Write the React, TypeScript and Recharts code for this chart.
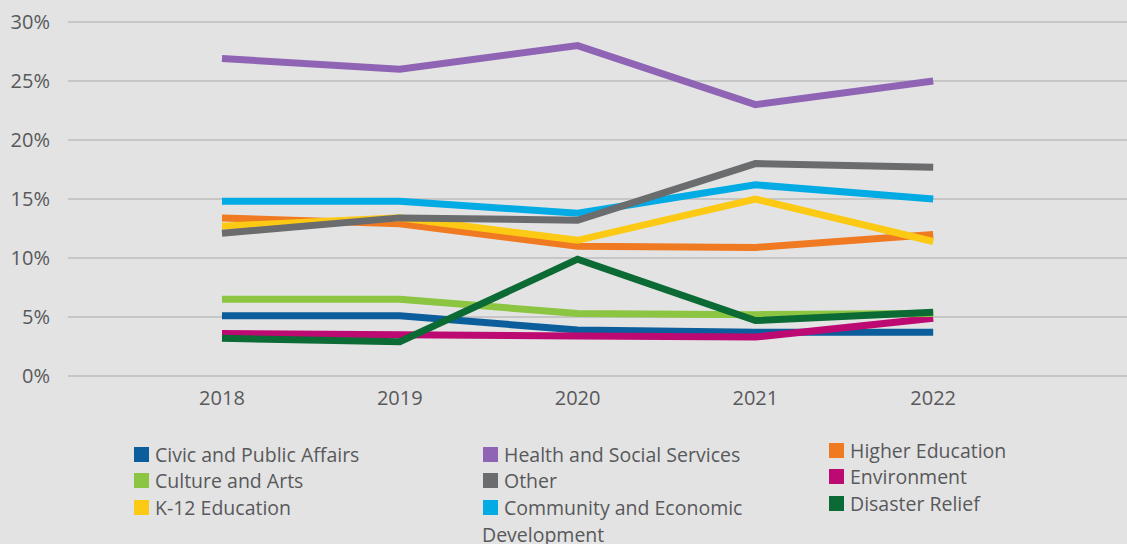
import { CartesianGrid, Line, LineChart, XAxis, YAxis } from 'recharts'

const years = [2018, 2019, 2020, 2021, 2022]
const yTicks = [0, 5, 10, 15, 20, 25, 30]

const civic = [5.1, 5.1, 3.9, 3.7, 3.7]
const culture = [6.5, 6.5, 5.3, 5.2, 5.3]
const k12 = [12.7, 13.4, 11.5, 15.0, 11.4]
const health = [26.9, 26.0, 28.0, 23.0, 25.0]
const other = [12.1, 13.4, 13.2, 18.0, 17.7]
const community = [14.8, 14.8, 13.8, 16.2, 15.0]
const higherEd = [13.4, 12.9, 11.0, 10.9, 12.0]
const environment = [3.6, 3.5, 3.4, 3.3, 4.9]
const disaster = [3.2, 2.9, 9.9, 4.7, 5.4]

const series = [
  { key: 'higherEd', name: 'Higher Education', color: '#f07a22', values: higherEd },
  { key: 'civic', name: 'Civic and Public Affairs', color: '#0b5e9b', values: civic },
  { key: 'environment', name: 'Environment', color: '#bd0a72', values: environment },
  { key: 'culture', name: 'Culture and Arts', color: '#8cc541', values: culture },
  { key: 'k12', name: 'K-12 Education', color: '#fcc914', values: k12 },
  { key: 'community', name: 'Community and Economic Development', color: '#03abe4', values: community },
  { key: 'other', name: 'Other', color: '#6b6c6e', values: other },
  { key: 'health', name: 'Health and Social Services', color: '#9064b4', values: health },
  { key: 'disaster', name: 'Disaster Relief', color: '#0c6a34', values: disaster },
]

const legendCols = [
  ['civic', 'culture', 'k12'],
  ['health', 'other', 'community'],
  ['higherEd', 'environment', 'disaster'],
]

const data = years.map((year, i) => {
  const row: Record<string, number> = { year }
  series.forEach((s) => (row[s.key] = s.values[i]))
  return row
})

const font = '"Open Sans", sans-serif'
const textColor = '#58595b'

const colPos = [
  { x: 134, y: 443 },
  { x: 483, y: 443 },
  { x: 829, y: 439 },
]

export default function App() {
  return (
    <div style={{ position: 'fixed', left: 0, top: 0, width: 1127, height: 544, background: '#e3e3e3', fontFamily: font, overflow: 'hidden' }}>
      <LineChart width={1127} height={416} data={data} margin={{ top: 22, right: 0, left: 0, bottom: 0 }}>
        <CartesianGrid vertical={false} stroke="#c6c6c6" strokeWidth={2} />
        <XAxis
          dataKey="year"
          type="number"
          domain={[2017.134, 2023.09]}
          ticks={years}
          allowDataOverflow
          axisLine={false}
          tickLine={false}
          tickSize={0}
          tickMargin={15}
          height={40}
          tick={{ fill: textColor, fontSize: 20, fontFamily: font }}
        />
        <YAxis
          domain={[0, 30]}
          ticks={yTicks}
          width={68}
          axisLine={false}
          tickLine={false}
          tickSize={0}
          tickMargin={18}
          tickFormatter={(v) => `${v}%`}
          tick={{ fill: textColor, fontSize: 20, fontFamily: font }}
        />
        {series.map((s) => (
          <Line
            key={s.key}
            dataKey={s.key}
            type="linear"
            stroke={s.color}
            strokeWidth={7}
            strokeLinecap="butt"
            dot={false}
            activeDot={false}
            isAnimationActive={false}
          />
        ))}
      </LineChart>
      {legendCols.map((col, ci) =>
        col.map((key, ri) => {
          const s = series.find((x) => x.key === key)!
          const label = key === 'community' ? 'Community and Economic' : s.name
          return (
            <div
              key={key}
              style={{
                position: 'absolute',
                left: colPos[ci].x,
                top: colPos[ci].y + ri * 26.5,
                height: 22,
                display: 'flex',
                alignItems: 'center',
                fontSize: 19.5,
                color: textColor,
                whiteSpace: 'nowrap',
              }}
            >
              <span style={{ width: 15, height: 15, background: s.color, display: 'inline-block', marginRight: 6 }} />
              {label}
            </div>
          )
        })
      )}
      <div style={{ position: 'absolute', left: 482, top: 523, height: 22, fontSize: 19.5, color: textColor, display: 'flex', alignItems: 'center' }}>
        Development
      </div>
    </div>
  )
}
